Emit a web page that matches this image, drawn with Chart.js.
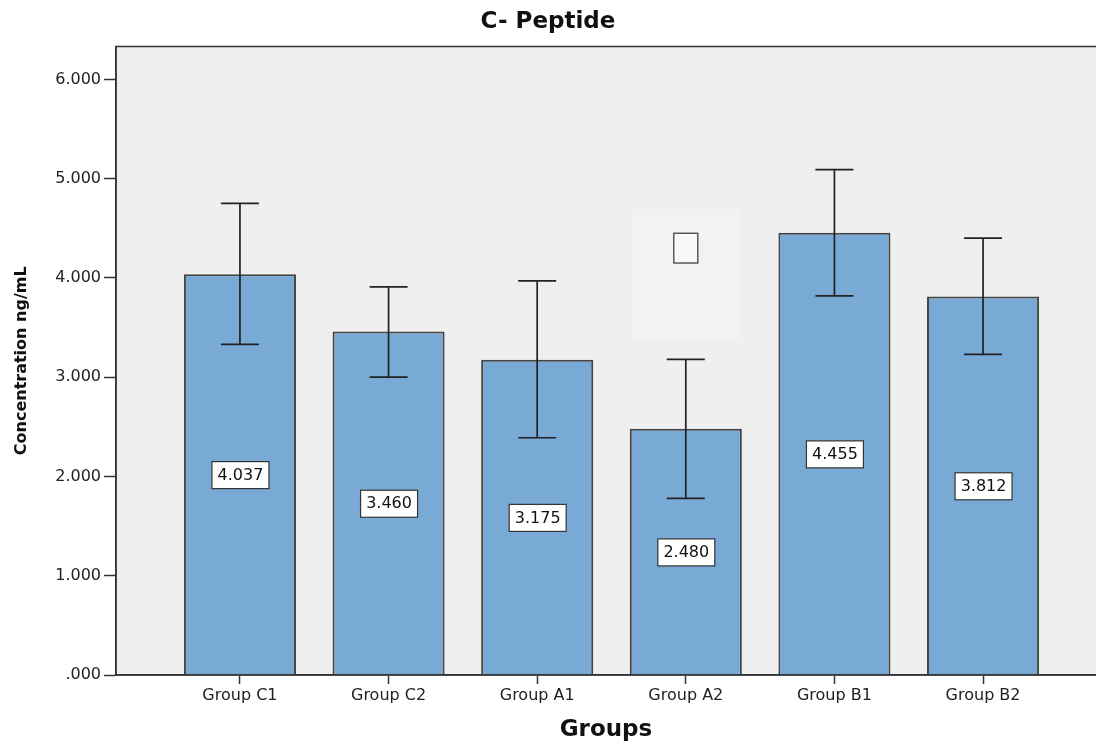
<!DOCTYPE html>
<html>
<head>
<meta charset="utf-8">
<script src="https://cdn.jsdelivr.net/npm/chart.js@4/dist/chart.umd.min.js"></script>
<style>
  body { margin: 0; background: #fff; overflow: hidden; }
</style>
</head>
<body>
<canvas id="chart" width="1096" height="742"></canvas>
<script>
var categories = ["Group C1", "Group C2", "Group A1", "Group A2", "Group B1", "Group B2"];
var means = [4.037, 3.460, 3.175, 2.480, 4.455, 3.812];
var errLow = [3.33, 3.00, 2.39, 1.78, 3.82, 3.23];
var errHigh = [4.75, 3.91, 3.97, 3.18, 5.09, 4.40];
var yTicks = [0, 1, 2, 3, 4, 5, 6];

var FONT = "DejaVu Sans";

var extras = {
    id: "extras",
    beforeDraw: function (chart) {
        var a = chart.chartArea, ctx = chart.ctx;
        ctx.save();
        ctx.fillStyle = "#efefef";
        ctx.fillRect(a.left, a.top, a.right - a.left, a.bottom - a.top);
        ctx.restore();
    },
    beforeDatasetsDraw: function (chart) {
        // stray label box left over on Group A2
        var x = chart.scales.x, y = chart.scales.y, ctx = chart.ctx;
        ctx.save();
        ctx.fillStyle = "#f2f2f2";
        var l = x.getPixelForValue(3 - 0.357), r = x.getPixelForValue(3 + 0.357);
        var t = y.getPixelForValue(4.69), b = y.getPixelForValue(3.37);
        ctx.fillRect(l, t, r - l, b - t);
        var cx = x.getPixelForValue(3);
        var bt = y.getPixelForValue(4.45), bb = y.getPixelForValue(4.15);
        ctx.fillStyle = "#f8f8f8";
        ctx.fillRect(cx - 12, bt, 24, bb - bt);
        ctx.strokeStyle = "#333";
        ctx.lineWidth = 1.2;
        ctx.strokeRect(cx - 12, bt, 24, bb - bt);
        ctx.restore();
    },
    afterDatasetsDraw: function (chart) {
        var x = chart.scales.x, y = chart.scales.y, ctx = chart.ctx, a = chart.chartArea;
        ctx.save();
        // error bars
        ctx.strokeStyle = "#222";
        ctx.lineWidth = 1.7;
        for (var i = 0; i < means.length; i++) {
            var px = x.getPixelForValue(i);
            var hi = y.getPixelForValue(errHigh[i]);
            var lo = y.getPixelForValue(errLow[i]);
            ctx.beginPath();
            ctx.moveTo(px, hi); ctx.lineTo(px, lo);
            ctx.moveTo(px - 19, hi); ctx.lineTo(px + 19, hi);
            ctx.moveTo(px - 19, lo); ctx.lineTo(px + 19, lo);
            ctx.stroke();
        }
        // value labels
        ctx.font = "16px '" + FONT + "'";
        ctx.textAlign = "center";
        ctx.textBaseline = "middle";
        for (var j = 0; j < means.length; j++) {
            var cx = x.getPixelForValue(j);
            var cy = y.getPixelForValue(means[j] / 2);
            ctx.fillStyle = "#fff";
            ctx.fillRect(cx - 28, cy - 13, 57, 27);
            ctx.strokeStyle = "#333";
            ctx.lineWidth = 1.2;
            ctx.strokeRect(cx - 28, cy - 13, 57, 27);
            ctx.fillStyle = "#111";
            ctx.fillText(means[j].toFixed(3), cx + 0.5, cy + 1);
        }
        // frame
        ctx.strokeStyle = "#333";
        ctx.lineWidth = 1.5;
        ctx.beginPath();
        ctx.moveTo(a.right, a.top); ctx.lineTo(a.left, a.top);
        ctx.lineTo(a.left, a.bottom); ctx.lineTo(a.right, a.bottom);
        ctx.stroke();
        ctx.restore();
    }
};

new Chart(document.getElementById("chart").getContext("2d"), {
    type: "bar",
    data: {
        datasets: [{
            data: means.map(function (v, i) { return { x: i, y: v }; }),
            backgroundColor: "#79a9d5",
            borderColor: "#444",
            borderWidth: 2,
            barPercentage: 0.754,
            categoryPercentage: 1
        }]
    },
    options: {
        responsive: false,
        animation: false,
        layout: { padding: { left: 0, right: 0, top: 0, bottom: 0 } },
        plugins: {
            legend: { display: false },
            tooltip: { enabled: false },
            title: {
                display: true,
                text: "C- Peptide",
                color: "#111",
                font: { family: FONT, size: 23, weight: "bold", lineHeight: 1.2 },
                padding: { top: 8, bottom: 11 }
            }
        },
        scales: {
            x: {
                type: "linear",
                offset: false,
                min: -0.834,
                max: 5.76,
                afterBuildTicks: function (scale) {
                    scale.ticks = categories.map(function (c, i) { return { value: i }; });
                },
                afterFit: function (scale) { scale.height = 67; },
                ticks: {
                    callback: function (v) { return categories[v]; },
                    color: "#222",
                    font: { family: FONT, size: 16 },
                    padding: 2,
                    maxRotation: 0,
                    autoSkip: false
                },
                grid: { display: true, offset: false, drawOnChartArea: false, drawTicks: true, tickLength: 9, tickColor: "#333", tickWidth: 1.5 },
                border: { display: true, color: "#333", width: 1.5 },
                title: {
                    display: true,
                    text: "Groups",
                    color: "#111",
                    font: { family: FONT, size: 23, weight: "bold", lineHeight: 1 },
                    padding: { top: 0, bottom: 0 }
                }
            },
            y: {
                min: 0,
                max: 6.33,
                afterBuildTicks: function (scale) {
                    scale.ticks = yTicks.map(function (v) { return { value: v }; });
                },
                afterFit: function (scale) { scale.width = 116; },
                ticks: {
                    callback: function (v) { return v === 0 ? ".000" : v.toFixed(3); },
                    color: "#222",
                    font: { family: FONT, size: 16 },
                    padding: 3
                },
                grid: { display: true, drawOnChartArea: false, drawTicks: true, tickLength: 12, tickColor: "#333", tickWidth: 1.5 },
                border: { display: true, color: "#333", width: 1.5 },
                title: {
                    display: true,
                    text: "Concentration ng/mL",
                    color: "#111",
                    font: { family: FONT, size: 16, weight: "bold", lineHeight: 1.2 },
                    padding: { top: 12, bottom: 0 }
                }
            }
        }
    },
    plugins: [extras]
});
</script>
</body>
</html>
